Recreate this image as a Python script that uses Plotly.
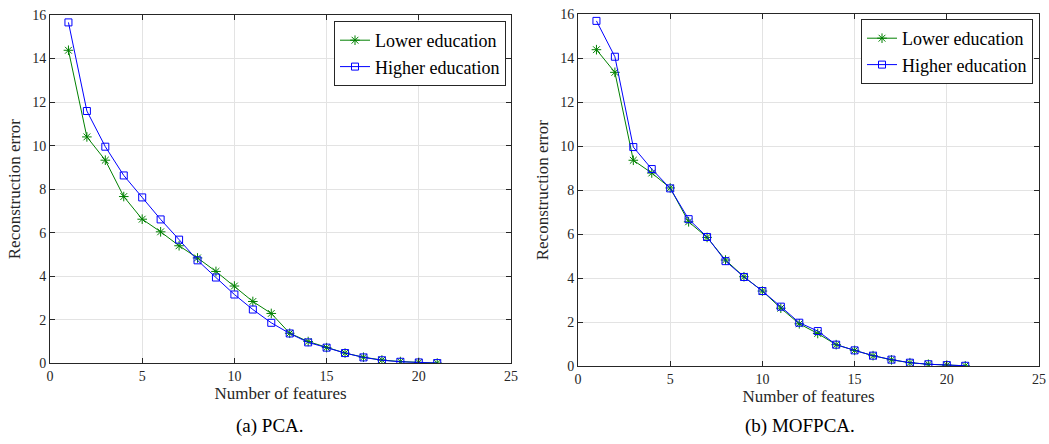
import plotly.graph_objects as go

features = list(range(1, 22))
pca_lower = [14.38, 10.40, 9.33, 7.66, 6.62, 6.04, 5.40, 4.84, 4.22, 3.55, 2.84, 2.29, 1.38, 1.00, 0.72, 0.47, 0.28, 0.15, 0.08, 0.04, 0.01]
pca_higher = [15.66, 11.59, 9.95, 8.63, 7.62, 6.61, 5.68, 4.73, 3.94, 3.16, 2.47, 1.86, 1.37, 0.96, 0.72, 0.47, 0.27, 0.14, 0.07, 0.04, 0.01]
mof_lower = [14.39, 13.36, 9.36, 8.78, 8.10, 6.56, 5.85, 4.82, 4.06, 3.41, 2.63, 1.92, 1.48, 0.97, 0.71, 0.47, 0.28, 0.15, 0.08, 0.04, 0.01]
mof_higher = [15.70, 14.07, 9.96, 8.96, 8.08, 6.68, 5.87, 4.77, 4.05, 3.41, 2.70, 1.97, 1.59, 0.97, 0.71, 0.47, 0.29, 0.15, 0.08, 0.04, 0.01]

x_ticks = [0, 5, 10, 15, 20, 25]
y_ticks = [0, 2, 4, 6, 8, 10, 12, 14, 16]
series_names = ["Lower education", "Higher education"]
captions = ["(a) PCA.", "(b) MOFPCA."]

GREEN = "#008000"
BLUE = "#0000ff"
FONT = "Liberation Serif, Times New Roman, serif"
W, H = 1049, 444
L, R, T, B = 50, 10, 14, 78
PW, PH = W - L - R, H - T - B

def px_x(p):
    return (p - L) / PW

def px_y(p):
    return (H - B - p) / PH

fig = go.Figure()

def add_pair(lower, higher, xa, ya, legend):
    fig.add_trace(go.Scatter(x=features, y=lower, mode="lines+markers", name=series_names[0],
                             line=dict(color=GREEN, width=1),
                             marker=dict(symbol="asterisk-open", size=8, color=GREEN, line=dict(width=1, color=GREEN)),
                             xaxis=xa, yaxis=ya, legend=legend))
    fig.add_trace(go.Scatter(x=features, y=higher, mode="lines+markers", name=series_names[1],
                             line=dict(color=BLUE, width=1),
                             marker=dict(symbol="square-open", size=7, color=BLUE, line=dict(width=1, color=BLUE)),
                             xaxis=xa, yaxis=ya, legend=legend))

add_pair(pca_lower, pca_higher, "x", "y", "legend")
add_pair(mof_lower, mof_higher, "x2", "y2", "legend2")

axis_common = dict(showline=True, linecolor="#262626", linewidth=1, mirror="allticks",
                   ticks="inside", ticklen=5, tickcolor="#262626", showgrid=True,
                   gridcolor="#e3e3e3", gridwidth=1, zeroline=False, automargin=False,
                   ticklabeloverflow="allow",
                   tickfont=dict(family=FONT, size=14, color="#262626"))

def xaxis(domain, anchor):
    return dict(axis_common, domain=domain, anchor=anchor, range=[0, 25], tickvals=x_ticks,
                title=dict(text="Number of features", font=dict(family=FONT, size=17, color="#262626"), standoff=4))

def yaxis(domain, anchor):
    return dict(axis_common, domain=domain, anchor=anchor, range=[0, 16], tickvals=y_ticks,
                title=dict(text="Reconstruction error", font=dict(family=FONT, size=17, color="#262626"), standoff=7))

legend_common = dict(bgcolor="white", bordercolor="#262626", borderwidth=1,
                     font=dict(family=FONT, size=18, color="black"),
                     xanchor="right", yanchor="top", tracegroupgap=0, itemwidth=30)

fig.update_layout(
    width=W, height=H, margin=dict(l=L, r=R, t=T, b=B),
    font=dict(family=FONT, color="#262626"),
    paper_bgcolor="white", plot_bgcolor="white",
    xaxis=xaxis([px_x(50), px_x(511)], "y"),
    yaxis=yaxis([px_y(363.3), min(1, px_y(15))], "x"),
    xaxis2=xaxis([px_x(578), min(1, px_x(1039))], "y2"),
    yaxis2=yaxis([px_y(366), min(1, px_y(14.3))], "x2"),
    legend=dict(legend_common, x=px_x(506), y=px_y(21)),
    legend2=dict(legend_common, x=px_x(1033), y=px_y(19)),
    annotations=[
        dict(text=captions[0], x=px_x(270), y=px_y(426), xref="paper", yref="paper", showarrow=False,
             font=dict(family=FONT, size=19, color="black"), xanchor="center", yanchor="middle"),
        dict(text=captions[1], x=px_x(800), y=px_y(426), xref="paper", yref="paper", showarrow=False,
             font=dict(family=FONT, size=19, color="black"), xanchor="center", yanchor="middle"),
    ],
)

fig.write_html("out.html", config={"displayModeBar": False},
               post_script="document.body.style.margin='0';document.body.style.overflow='hidden';")
